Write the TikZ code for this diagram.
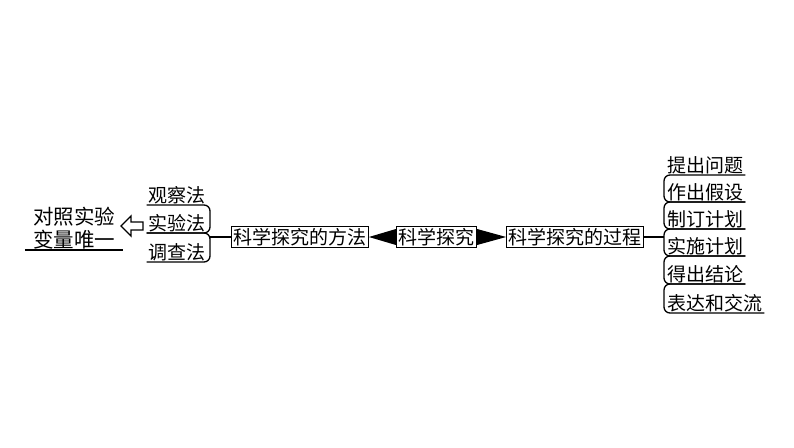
\documentclass[tikz,border=0pt]{standalone}
\usepackage{fontspec}
\setmainfont{Noto Sans CJK SC}
\usetikzlibrary{positioning}
\tikzset{
  casella/.style={draw,line width=1.2pt,inner xsep=2pt,inner ysep=1.5pt},
  voce/.style={inner xsep=2pt,inner ysep=1pt},
  linea/.style={line width=1.3pt},
}

\begin{document}
\begin{tikzpicture}[x=1pt,y=-1pt,font=\fontsize{19}{23}\selectfont]
		\useasboundingbox (0,0) rectangle (794,447);
		% nodi centrali
		\node[casella] (sci) at (436.5,237) {科学探究};
		\node[casella,left=27pt of sci] (metodo) {科学探究的方法};
		\node[casella,right=29pt of sci] (processo) {科学探究的过程};
		\fill ([yshift=8pt]sci.west) -- (metodo.east) -- ([yshift=-8pt]sci.west) -- cycle;
		\fill ([yshift=8pt]sci.east) -- (processo.west) -- ([yshift=-8pt]sci.east) -- cycle;

		% parentesi a destra
		\coordinate (dx) at (664,237);
		\draw[linea] (processo.east) -- (dx);
		\foreach \y/\t [count=\i] in {175/提出问题,202/作出假设,229/制订计划,256/实施计划,284/得出结论,313/表达和交流}
			\node[voce,anchor=south west] (p\i) at (665,\y) {\t};
		\foreach \i/\j in {1/2,2/3,3/4,4/5,5/6}
			\draw[linea,rounded corners=6pt] (p\i.south east) -- (p\i.south east -| dx) -- (p\j.south east -| dx) -- (p\j.south east);

		% parentesi a sinistra
		\coordinate (sx) at (210,237);
		\draw[linea] (sx) -- (metodo.west);
		\foreach \y/\t [count=\i] in {205/观察法,233/实验法,262/调查法}
			\node[voce,anchor=south east] (o\i) at (208,\y) {\t};
		\foreach \i/\j in {1/2,2/3}
			\draw[linea,rounded corners=6pt] (o\i.south west) -- (o\i.south west -| sx) -- (o\j.south west -| sx) -- (o\j.south west);

		% nota e freccia vuota
		\coordinate (punta) at (121,226);
		\draw[linea,line join=miter] (punta) -- ++(10,-10) -- ++(0,6) -- ++(12,0) -- ++(0,8) -- ++(-12,0) -- ++(0,6) -- cycle;
		\node[align=center,text width=94pt,inner xsep=2pt,inner ysep=1pt,anchor=south,font=\fontsize{20.5}{23}\selectfont] (nota) at (74,250) {对照实验\\变量唯一};
		\draw[linea] (nota.south west) -- (nota.south east);
	\end{tikzpicture}
\end{document}
